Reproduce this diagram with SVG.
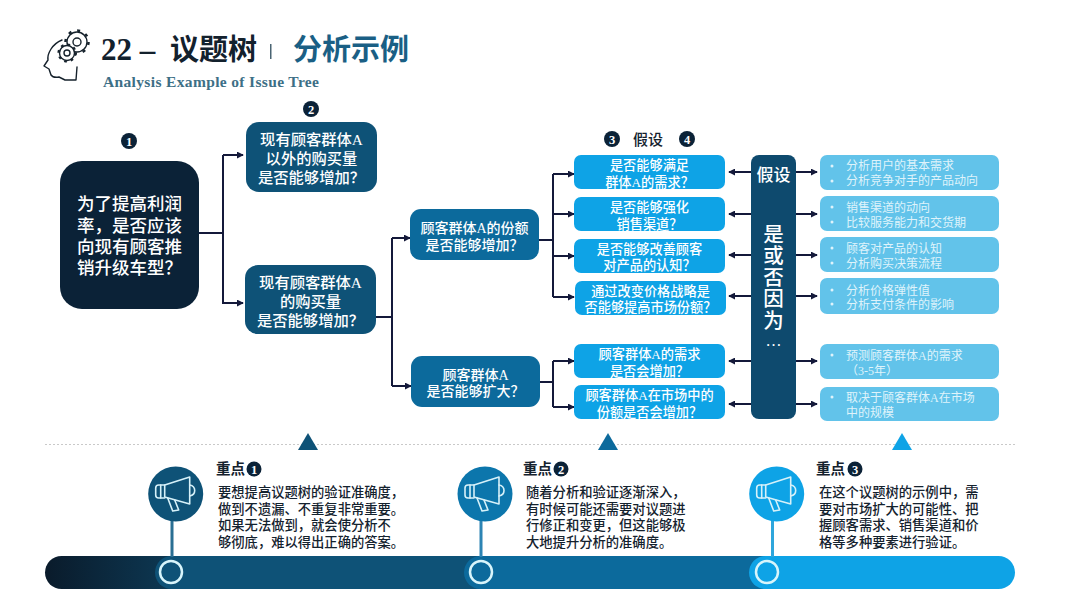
<svg xmlns="http://www.w3.org/2000/svg" width="1080" height="608" viewBox="0 0 1080 608">
<style>
text{font-family:"Liberation Serif","Noto Sans CJK SC",serif}
.c{text-anchor:middle}
.w{fill:#fff;font-weight:500}
.t15{font-size:15.3px}
.t14{font-size:14px}
.t13{font-size:13.2px}
.note{font-size:13.3px;fill:#14222e;font-weight:500}
.hd{font-size:14.5px;fill:#14222e;font-weight:700}
.r{font-size:12px;fill:#dff3fb;font-weight:400}
.bd{fill:#0b2237}
.bn{fill:#fff;font-size:12.5px;font-weight:700;text-anchor:middle}
.dk{fill:#0e5277}
.md{fill:#0c6a9c}
.lt{fill:#0ea3e6}
.pl{fill:#62c3ea}
.ln{fill:none;stroke:#14193a;stroke-width:2}
.ic{fill:none;stroke:#d6f1f9;stroke-width:1.6;stroke-linejoin:round;stroke-linecap:round}
.hi{fill:none;stroke:#16222c;stroke-width:1.4;stroke-linejoin:round;stroke-linecap:round}
.ring{stroke:#d8f5fb;stroke-width:2.5}
</style>
<defs>
<marker id="a" viewBox="0 0 8 8" refX="7" refY="4" markerWidth="7" markerHeight="7" markerUnits="userSpaceOnUse" orient="auto"><path d="M0 0L8 4L0 8Z" fill="#14193a"/></marker>
<linearGradient id="g" x1="0" x2="1" y1="0" y2="0"><stop offset="0" stop-color="#0a1b2b"/><stop offset="1" stop-color="#0d3d5a"/></linearGradient>
<g id="mega" class="ic">
<path d="M-11-9L14-17V10L-11 3Z"/><path d="M-11-9H-17Q-20-9-20-6V1Q-20 4-17 4H-11"/><path d="M-15-9V4"/>
<path d="M14-9Q19-8 19-3.5Q19 1 14 2"/><path d="M-8 4L-3 17L3 16L-1 6"/>
</g>
</defs>
<rect width="1080" height="608" fill="#fff"/>

<g id="title">
<g id="logo">
<path class="hi" d="M62 40C52 44 47 54 48 60L44 66L49 69L51 75Q53 78 59 77L65 80H76L77 67"/>
<circle class="hi" cx="77" cy="42" r="4"/><circle class="hi" cx="77" cy="42" r="10"/>
<circle cx="77" cy="42" r="11.500" fill="none" stroke="#16222c" stroke-width="2.500" stroke-dasharray="3 6"/>
<circle cx="67" cy="53" r="7.500" fill="#fff" stroke="#16222c" stroke-width="1.400"/><circle class="hi" cx="67" cy="53" r="3"/>
<circle cx="67" cy="53" r="8.500" fill="none" stroke="#16222c" stroke-width="2.200" stroke-dasharray="2.700 4"/>
</g>
<text y="60" font-weight="700" fill="#13212d"><tspan x="101" font-size="31">22 –</tspan><tspan x="170" font-size="29">议题树</tspan></text>
<rect x="270" y="44" width="1.500" height="15" fill="#4a6473"/>
<text x="293" y="60" font-size="29" font-weight="700" fill="#1a5f85">分析示例</text>
<text x="103" y="87" font-size="15.500" letter-spacing="0.350" font-weight="700" fill="#3d6f86">Analysis Example of Issue Tree</text>
</g>

<g id="connectors">
<path class="ln" d="M199 233H223"/>
<path class="ln" d="M223 155V303H243" marker-end="url(#a)"/>
<path class="ln" d="M223 155H243" marker-end="url(#a)"/>
<path class="ln" d="M376 317H392"/>
<path class="ln" d="M392 238V386"/>
<path class="ln" d="M392 238H410" marker-end="url(#a)"/>
<path class="ln" d="M392 386H411" marker-end="url(#a)"/>
<path class="ln" d="M539 240H553"/>
<path class="ln" d="M553 174V297"/>
<path class="ln" d="M553 174H574" marker-end="url(#a)"/>
<path class="ln" d="M553 214H574" marker-end="url(#a)"/>
<path class="ln" d="M553 256H574" marker-end="url(#a)"/>
<path class="ln" d="M553 297H574" marker-end="url(#a)"/>
<path class="ln" d="M540 382H553"/>
<path class="ln" d="M553 361V407"/>
<path class="ln" d="M553 361H574" marker-end="url(#a)"/>
<path class="ln" d="M553 407H574" marker-end="url(#a)"/>
<path class="ln" d="M751 172H729" marker-end="url(#a)"/>
<path class="ln" d="M751 214H729" marker-end="url(#a)"/>
<path class="ln" d="M751 255H729" marker-end="url(#a)"/>
<path class="ln" d="M751 296H729" marker-end="url(#a)"/>
<path class="ln" d="M751 361H729" marker-end="url(#a)"/>
<path class="ln" d="M751 404H729" marker-end="url(#a)"/>
<path class="ln" d="M796 172H817" marker-end="url(#a)"/>
<path class="ln" d="M796 214H817" marker-end="url(#a)"/>
<path class="ln" d="M796 255H817" marker-end="url(#a)"/>
<path class="ln" d="M796 296H817" marker-end="url(#a)"/>
<path class="ln" d="M796 361H817" marker-end="url(#a)"/>
<path class="ln" d="M796 404H817" marker-end="url(#a)"/>
</g>

<g id="badges">
<circle class="bd" cx="129" cy="141" r="8"/><text class="bn" x="129" y="145.500">1</text>
<circle class="bd" cx="311" cy="109" r="8"/><text class="bn" x="311" y="113.500">2</text>
<circle class="bd" cx="612" cy="139" r="8"/><text class="bn" x="612" y="143.500">3</text>
<text x="648" y="144.500" font-size="15" font-weight="500" fill="#14222e" class="c">假设</text>
<circle class="bd" cx="687" cy="139" r="8"/><text class="bn" x="687" y="143.500">4</text>
</g>

<g id="root">
<rect x="60" y="161" width="139" height="148" rx="22" fill="#0b2237"/>
<g class="c w" font-size="17.500">
<text x="129.500" y="210">为了提高利润</text><text x="129.500" y="232">率，是否应该</text><text x="129.500" y="253">向现有顾客推</text><text x="129.500" y="274">销升级车型？</text>
</g>
</g>
<g id="q1"><rect class="dk" x="246" y="122" width="131" height="70" rx="13"/>
<g class="c w t15"><text x="311.500" y="144.500">现有顾客群体A</text><text x="311.500" y="163.500">以外的购买量</text><text x="311.500" y="182.500">是否能够增加？</text></g></g>
<g id="q2"><rect class="dk" x="245" y="265" width="131" height="69" rx="13"/>
<g class="c w t15"><text x="310.500" y="287.500">现有顾客群体A</text><text x="310.500" y="306.500">的购买量</text><text x="310.500" y="325.500">是否能够增加？</text></g></g>
<g id="q3"><rect class="md" x="410" y="209" width="129" height="51" rx="11"/>
<g class="c w t14"><text x="474.500" y="233">顾客群体A的份额</text><text x="474.500" y="250">是否能够增加？</text></g></g>
<g id="q4"><rect class="md" x="411" y="356" width="129" height="51" rx="11"/>
<g class="c w t14"><text x="475.500" y="380">顾客群体A</text><text x="475.500" y="396">是否能够扩大？</text></g></g>

<g id="h1"><rect class="lt" x="574" y="155" width="151" height="34" rx="7"/><g class="c w t13"><text x="649.500" y="169.500">是否能够满足</text><text x="649.500" y="186.500">群体A的需求？</text></g></g>
<g id="h2"><rect class="lt" x="574" y="197" width="151" height="34" rx="7"/><g class="c w t13"><text x="649.500" y="211.500">是否能够强化</text><text x="649.500" y="228.500">销售渠道？</text></g></g>
<g id="h3"><rect class="lt" x="574" y="239" width="151" height="34" rx="7"/><g class="c w t13"><text x="649.500" y="253.500">是否能够改善顾客</text><text x="649.500" y="269.500">对产品的认知？</text></g></g>
<g id="h4"><rect class="lt" x="575" y="281" width="151" height="34" rx="7"/><g class="c w t13"><text x="650.500" y="295.500">通过改变价格战略是</text><text x="650.500" y="311.500">否能够提高市场份额？</text></g></g>
<g id="h5"><rect class="lt" x="574" y="344" width="151" height="34" rx="7"/><g class="c w t13"><text x="649.500" y="358.500">顾客群体A的需求</text><text x="649.500" y="375.500">是否会增加？</text></g></g>
<g id="h6"><rect class="lt" x="574" y="385" width="151" height="34" rx="7"/><g class="c w t13"><text x="649.500" y="399.500">顾客群体A在市场中的</text><text x="649.500" y="416.500">份额是否会增加？</text></g></g>

<g id="hyp"><rect x="751" y="155" width="45" height="264" rx="8" fill="#0e4a6e"/>
<g class="c w"><text x="773.500" y="181" font-size="17">假设</text>
<g font-size="20.500"><text x="773.500" y="242">是</text><text x="773.500" y="263">或</text><text x="773.500" y="285">否</text><text x="773.500" y="306">因</text><text x="773.500" y="328">为</text></g>
<text x="773.500" y="346" font-size="16">…</text></g></g>

<g id="d1"><rect class="pl" x="820" y="155" width="179" height="35" rx="7"/><circle cx="832" cy="166" r="1.500" fill="#dff3fb"/><circle cx="832" cy="181" r="1.500" fill="#dff3fb"/><text class="r" x="846" y="170">分析用户的基本需求</text><text class="r" x="846" y="185">分析竞争对手的产品动向</text></g>
<g id="d2"><rect class="pl" x="820" y="196" width="179" height="35" rx="7"/><circle cx="832" cy="207" r="1.500" fill="#dff3fb"/><circle cx="832" cy="222" r="1.500" fill="#dff3fb"/><text class="r" x="846" y="211.500">销售渠道的动向</text><text class="r" x="846" y="226.500">比较服务能力和交货期</text></g>
<g id="d3"><rect class="pl" x="820" y="237" width="179" height="35" rx="7"/><circle cx="832" cy="248" r="1.500" fill="#dff3fb"/><circle cx="832" cy="263" r="1.500" fill="#dff3fb"/><text class="r" x="846" y="252.500">顾客对产品的认知</text><text class="r" x="846" y="267.500">分析购买决策流程</text></g>
<g id="d4"><rect class="pl" x="820" y="278" width="179" height="36" rx="7"/><circle cx="832" cy="290" r="1.500" fill="#dff3fb"/><circle cx="832" cy="304" r="1.500" fill="#dff3fb"/><text class="r" x="846" y="294.500">分析价格弹性值</text><text class="r" x="846" y="308.500">分析支付条件的影响</text></g>
<g id="d5"><rect class="pl" x="820" y="344" width="179" height="35" rx="7"/><circle cx="832" cy="355" r="1.500" fill="#dff3fb"/><text class="r" x="846" y="359.500">预测顾客群体A的需求</text><text class="r" x="846" y="374.500">（3-5年）</text></g>
<g id="d6"><rect class="pl" x="820" y="387" width="179" height="34" rx="7"/><circle cx="832" cy="397" r="1.500" fill="#dff3fb"/><text class="r" x="846" y="401.500">取决于顾客群体A在市场</text><text class="r" x="846" y="416.500">中的规模</text></g>

<g id="divider">
<path d="M45 444.500H1015" stroke="#c9c9c9" stroke-width="1" stroke-dasharray="2 2"/>
<path class="dk" d="M308 433L318 450H298Z"/><path class="md" d="M608 433L618 450H598Z"/><path class="lt" d="M902 433L912 450H892Z"/>
</g>

<g id="bar">
<rect x="45" y="556" width="150" height="33" rx="16.500" fill="url(#g)"/>
<rect x="155" y="556" width="340" height="33" rx="16.500" fill="#0e5277"/>
<rect x="464" y="556" width="320" height="33" rx="16.500" fill="#0c6a9c"/>
<rect x="749" y="556" width="266" height="33" rx="16.500" fill="#0ea3e6"/>
</g>

<g id="n1">
<rect x="170.500" y="515" width="3" height="42" fill="#2a6f93"/>
<circle class="dk" cx="175.700" cy="494" r="27.500"/><use href="#mega" x="175.700" y="494"/>
<circle cx="171" cy="572" r="11" class="ring" fill="#0e5277"/>
<text class="hd" x="216" y="474">重点</text><circle class="bd" cx="254" cy="469" r="7.500"/><text class="bn" x="254" y="473.500">1</text>
<text class="note" x="218" y="496.500">要想提高议题树的验证准确度，</text><text class="note" x="218" y="513.500">做到不遗漏、不重复非常重要。</text><text class="note" x="218" y="530">如果无法做到，就会使分析不</text><text class="note" x="218" y="546.500">够彻底，难以得出正确的答案。</text>
</g>
<g id="n2">
<rect x="479.500" y="515" width="3" height="42" fill="#2c84b4"/>
<circle cx="485" cy="494" r="27.500" fill="#0c76ac"/><use href="#mega" x="485" y="494"/>
<circle cx="481" cy="572" r="11" class="ring" fill="#0c6a9c"/>
<text class="hd" x="523" y="474">重点</text><circle class="bd" cx="561" cy="469" r="7.500"/><text class="bn" x="561" y="473.500">2</text>
<text class="note" x="526" y="496.500">随着分析和验证逐渐深入，</text><text class="note" x="526" y="513.500">有时候可能还需要对议题进</text><text class="note" x="526" y="530">行修正和变更，但这能够极</text><text class="note" x="526" y="546.500">大地提升分析的准确度。</text>
</g>
<g id="n3">
<rect x="771" y="515" width="3" height="42" fill="#2ea6dc"/>
<circle class="lt" cx="776.700" cy="494" r="27.500"/><use href="#mega" x="776.700" y="494"/>
<circle cx="767" cy="572" r="11" class="ring" fill="#0ea3e6"/>
<text class="hd" x="816" y="474">重点</text><circle class="bd" cx="855" cy="469" r="7.500"/><text class="bn" x="855" y="473.500">3</text>
<text class="note" x="819" y="496.500">在这个议题树的示例中，需</text><text class="note" x="819" y="513.500">要对市场扩大的可能性、把</text><text class="note" x="819" y="530">握顾客需求、销售渠道和价</text><text class="note" x="819" y="546.500">格等多种要素进行验证。</text>
</g>
</svg>
